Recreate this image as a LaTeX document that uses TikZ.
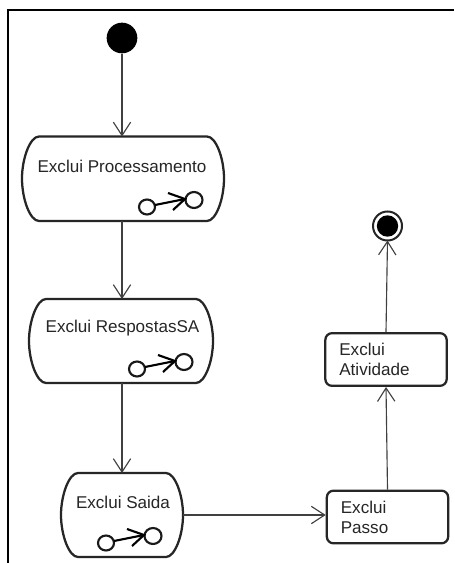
\documentclass[tikz,border=0pt]{standalone}
\usepackage{fontspec}
\setmainfont{Liberation Sans}
\usetikzlibrary{arrows.meta}
\tikzset{every picture/.style={line width=0.75pt}}
\tikzset{
	flow/.style={draw=black!75,line width=0.85pt,-{Straight Barb[length=10pt,width=13pt,line width=0.85pt]}},
	actbox/.style={draw=black!85,line width=1.7pt,fill=white},
	acttext/.style={inner sep=0.75pt,font=\fontsize{12.8pt}{15pt}\selectfont,text=black!85},
	stepbox/.style={acttext,draw=black!85,line width=1.7pt,rounded corners=5pt,fill=white,minimum width=91pt,minimum height=39.5pt,text width=70pt,inner xsep=10.5pt,align=left},
	subact/.style={draw=black!90,line width=1.6pt,fill=white},
}
% one rounded action with its small sub-activity mark
\newcommand{\actshape}[6]{%
	\draw [actbox] (#1+17,#2) -- (#3-17,#2) .. controls (#3-8,#2) and (#3,#2+22) .. (#3,#2+42)
		.. controls (#3,#4-22) and (#3-8,#4) .. (#3-17,#4) -- (#1+17,#4)
		.. controls (#1+8,#4) and (#1,#4-22) .. (#1,#2+42)
		.. controls (#1,#2+22) and (#1+8,#2) .. (#1+17,#2) -- cycle ;
	\draw [subact] (#5,#6) ellipse (8 and 7.5);
	\draw [subact] (#5+47,#6-7) ellipse (8.5 and 8);
	\draw [line width=1.6pt] (#5+8,#6-2) -- (#5+38,#6-8);
	\draw [line width=1.6pt] (#5+21,#6-14) -- (#5+38,#6-8) -- (#5+26,#6+3);
}
\begin{document}
\begin{tikzpicture}[x=0.75pt,y=0.75pt,yscale=-1]
	\useasboundingbox (0,0) rectangle (454,563);
	\fill [white] (0,0) rectangle (454,563);
	
	%frame
	\draw [line width=1.7pt] (8,563) -- (8,10) -- (454,10);
	
	%Action shapes
	\actshape{22}{136.5}{224}{221}{147}{207}
	\actshape{29}{299}{213}{383}{137}{369}
	\actshape{61}{473}{183}{557}{106}{543}
	
	% Text Node
	\node (proc) [acttext] at (122,166) {Exclui Processamento};
	\node (resp) [acttext] at (122.5,328) {Exclui RespostasSA};
	\node (said) [acttext] at (123,502) {Exclui Saida};
	
	%Boxes
	\node (ativ) [stepbox] at (386,359.5) {Exclui\\Atividade};
	\node (pass) [stepbox] at (387.5,517) {Exclui\\Passo};
	
	%Initial and final states
	\node (start) [circle,fill=black,inner sep=0pt,minimum size=23pt] at (122,38) {};
	\node (final) [circle,fill=black,inner sep=0pt,minimum size=16pt] at (387.5,226) {};
	\draw [line width=1.5pt,black!85] (final.center) circle (14.5);
	\coordinate (finalin) at (387.5,240.5);
	\coordinate (procin) at (122,136.5);
	\coordinate (procout) at (122,221);
	\coordinate (respin) at (122,299);
	\coordinate (respout) at (122,383);
	\coordinate (saidin) at (122,473);
	\coordinate (saidout) at (183,515);
	
	%Connectors
	\draw [flow] (start) -- (procin);
	\draw [flow] (procout) -- (respin);
	\draw [flow] (respout) -- (saidin);
	\draw [flow] (saidout) -- (pass.west |- saidout);
	\draw [flow] (pass.north) -- (ativ.south);
	\draw [flow] (ativ.north) -- (finalin);
\end{tikzpicture}
\end{document}
